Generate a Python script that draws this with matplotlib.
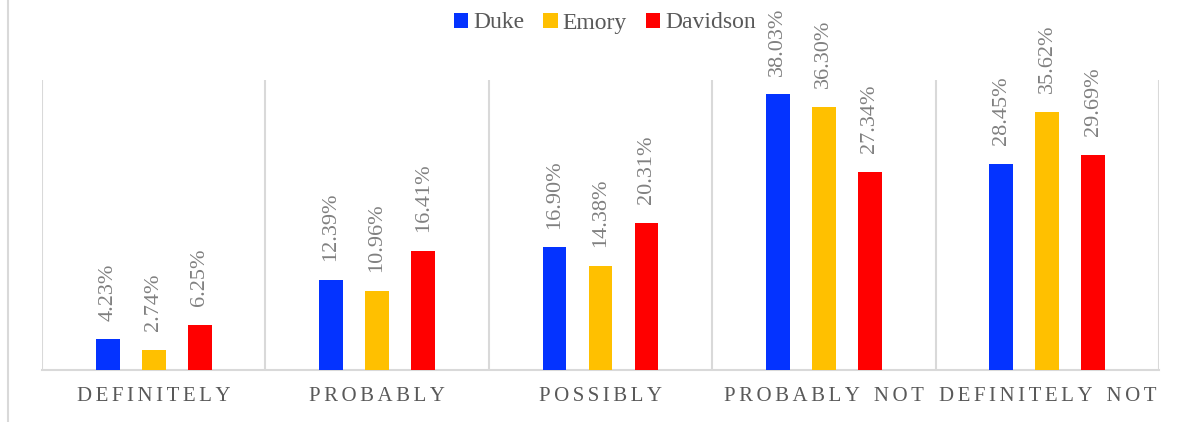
import numpy as np
import matplotlib
matplotlib.use("Agg")
import matplotlib.pyplot as plt
from matplotlib.lines import Line2D

categories = ["DEFINITELY", "PROBABLY", "POSSIBLY", "PROBABLY NOT", "DEFINITELY NOT"]
schools = ["Duke", "Emory", "Davidson"]
duke = [4.23, 12.39, 16.90, 38.03, 28.45]
emory = [2.74, 10.96, 14.38, 36.30, 35.62]
davidson = [6.25, 16.41, 20.31, 27.34, 29.69]
colors = ["#0433FF", "#FFC000", "#FF0000"]

SERIF = ["Liberation Serif", "DejaVu Serif"]
HAIR = "\u200a"


def spaced(label):
    # letter-spaced caps like the original axis labels
    return (HAIR + "  " + HAIR).join((HAIR + HAIR).join(word) for word in label.split(" "))


fig = plt.figure(figsize=(11.84, 4.22), dpi=100)
ax = fig.add_axes([42 / 1184, 52 / 422, 1117 / 1184, 290 / 422])

x = np.arange(len(categories))
width = 0.107
offset = 0.206
for i, (name, vals) in enumerate(zip(schools, [duke, emory, davidson])):
    pos = x + (i - 1) * offset
    ax.bar(pos, vals, width, color=colors[i], label=name, zorder=3)
    for px, v in zip(pos, vals):
        ax.annotate("%.2f%%" % v, (px, v), xytext=(0, 13.5), textcoords="offset points",
                    rotation=90, ha="center", va="bottom", fontsize=16,
                    family=SERIF, color="#808080")

ax.set_xlim(-0.5, len(categories) - 0.5)
ax.set_ylim(0, 40)
ax.set_yticks([])
ax.set_xticks(x)
ax.set_xticklabels([spaced(c) for c in categories], family=SERIF,
                   fontsize=15, color="#595959")
ax.tick_params(axis="x", length=0, pad=12)
ax.set_xticks(np.arange(-0.5, len(categories)), minor=True)
ax.tick_params(axis="x", which="minor", length=0)
ax.grid(which="minor", axis="x", color="#D9D9D9", linewidth=1.5, zorder=0)
for s in ["top", "left", "right"]:
    ax.spines[s].set_visible(False)
ax.spines["bottom"].set_color("#D9D9D9")
ax.spines["bottom"].set_linewidth(1.5)

fig.add_artist(Line2D([7.5 / 1184, 7.5 / 1184], [0, 1], color="#D9D9D9", linewidth=1.5))

leg = fig.legend(loc="center", bbox_to_anchor=(605 / 1184, 1 - 23 / 422), ncol=3, frameon=False,
                 handlelength=0.6, handleheight=0.6, handletextpad=0.22, columnspacing=0.8,
                 prop={"family": SERIF, "size": 17})
for t in leg.get_texts():
    t.set_color("#595959")

fig.savefig("out.png", dpi=100)
